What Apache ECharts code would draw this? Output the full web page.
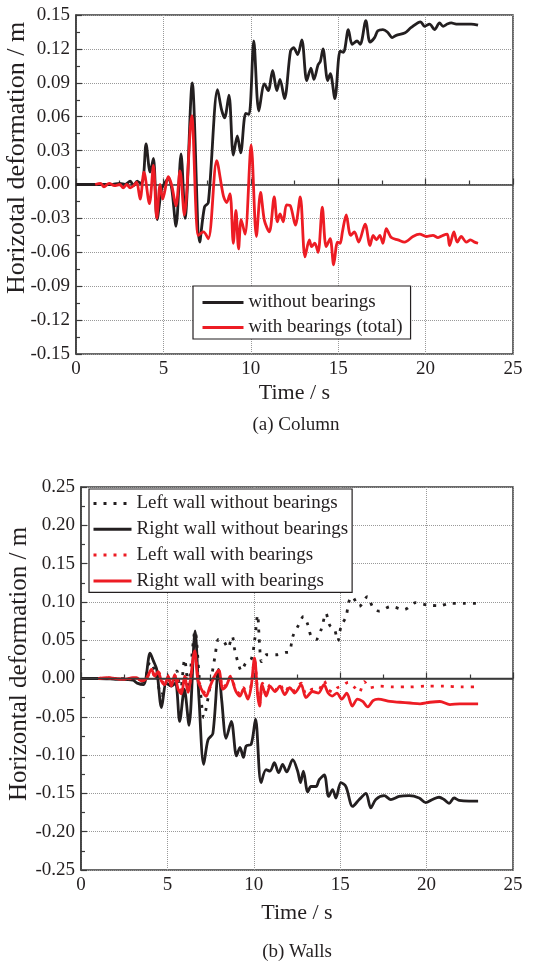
<!DOCTYPE html>
<html>
<head>
<meta charset="utf-8">
<script src="https://cdn.jsdelivr.net/npm/echarts@6/dist/echarts.min.js"></script>
<style>
  html, body { margin: 0; padding: 0; background: #fff; }
  #chart { width: 533px; height: 965px; }
</style>
</head>
<body>
<div id="chart"></div>
<script>
// (a) Column: [time s, horizontal deformation m]
const columnWithout = [
  [0, 0], [1, 0], [2, 0], [2.5, 0.001], [2.8, 0], [3.1, 0.003], [3.3, -0.001], [3.5, 0.003],
  [3.7, 0.001], [3.85, 0.005], [4.01, 0.036], [4.24, 0.011], [4.43, 0.023], [4.64, -0.031],
  [4.9, -0.004], [5.1, 0.002], [5.29, 0.005], [5.48, -0.004], [5.72, -0.037], [6.01, 0.027],
  [6.24, -0.030], [6.65, 0.090], [7.08, -0.051], [7.35, -0.020], [7.57, -0.016], [8.1, 0.084],
  [8.33, 0.066], [8.5, 0.059], [8.75, 0.079], [9.0, 0.026], [9.23, 0.043], [9.42, 0.028],
  [9.71, 0.063], [9.9, 0.062], [10.17, 0.127], [10.46, 0.065], [10.78, 0.089], [11.0, 0.083],
  [11.25, 0.101], [11.49, 0.083], [11.67, 0.093], [11.93, 0.076], [12.27, 0.118], [12.45, 0.121],
  [12.68, 0.115], [12.92, 0.128], [13.2, 0.092], [13.44, 0.103], [13.61, 0.093], [13.85, 0.106],
  [13.98, 0.109], [14.13, 0.120], [14.4, 0.092], [14.55, 0.098], [14.81, 0.076], [15.11, 0.118],
  [15.3, 0.117], [15.58, 0.137], [15.8, 0.124], [16.08, 0.127], [16.26, 0.124], [16.58, 0.145],
  [16.82, 0.126], [17.08, 0.130], [17.27, 0.136], [17.56, 0.137], [17.81, 0.135], [18.09, 0.130],
  [18.32, 0.132], [18.8, 0.134], [19.18, 0.139], [19.71, 0.144], [19.94, 0.140], [20.23, 0.142],
  [20.51, 0.137], [20.8, 0.143], [21.0, 0.140], [21.24, 0.142], [21.47, 0.143], [21.75, 0.142],
  [22.04, 0.142], [22.42, 0.142], [22.61, 0.142], [23.0, 0.141]
];
const columnWith = [
  [1.1, 0], [1.4, 0.001], [1.6, -0.002], [1.9, 0.001], [2.2, -0.001], [2.5, 0], [2.7, -0.003],
  [2.9, 0], [3.1, -0.003], [3.3, -0.001], [3.47, 0.002], [3.67, -0.013], [3.89, 0.011],
  [4.2, -0.017], [4.43, 0.017], [4.62, -0.030], [4.81, 0], [4.96, -0.013], [5.29, 0.007],
  [5.48, -0.001], [5.72, -0.019], [5.95, 0.012], [6.2, -0.027], [6.62, 0.061], [7.0, -0.045],
  [7.29, -0.042], [7.57, -0.048], [8.05, 0.021], [8.43, -0.010], [8.62, -0.016], [8.81, -0.008],
  [9.0, -0.052], [9.15, -0.023], [9.3, -0.057], [9.45, -0.031], [9.67, -0.044], [10.02, 0.035],
  [10.32, -0.046], [10.56, -0.007], [10.78, -0.032], [11.06, -0.042], [11.34, -0.011],
  [11.52, -0.033], [11.67, -0.026], [11.86, -0.033], [12.04, -0.018], [12.27, -0.019],
  [12.55, -0.036], [12.83, -0.011], [13.1, -0.064], [13.35, -0.049], [13.48, -0.055],
  [13.66, -0.052], [13.85, -0.060], [14.09, -0.020], [14.31, -0.055], [14.54, -0.048],
  [14.74, -0.071], [14.96, -0.051], [15.11, -0.052], [15.24, -0.042], [15.46, -0.027],
  [15.71, -0.045], [15.93, -0.042], [16.17, -0.051], [16.54, -0.035], [16.82, -0.054],
  [17.0, -0.045], [17.19, -0.049], [17.38, -0.045], [17.56, -0.052], [17.75, -0.039],
  [18.04, -0.047], [18.42, -0.049], [18.8, -0.051], [19.28, -0.046], [19.66, -0.044],
  [20.04, -0.046], [20.42, -0.045], [20.71, -0.047], [21.0, -0.045], [21.24, -0.044],
  [21.37, -0.054], [21.62, -0.042], [21.81, -0.051], [22.04, -0.046], [22.33, -0.051],
  [22.57, -0.049], [22.8, -0.051], [23.0, -0.052]
];

// (b) Walls
const leftWithout = [
  [0, 0], [1, 0], [2, 0], [3, -0.001], [3.6, -0.004], [4.0, 0.022], [4.3, 0.008], [4.66, -0.022],
  [5.0, 0], [5.3, -0.008], [5.55, 0.010], [5.75, -0.018], [6.0, 0.025], [6.2, -0.008],
  [6.6, 0.062], [6.85, 0], [7.11, -0.051], [7.3, -0.032], [7.77, 0.031], [7.96, 0.051],
  [8.25, 0.049], [8.5, 0.040], [8.75, 0.055], [8.91, 0.036], [9.1, 0.020], [9.28, 0.010],
  [9.53, 0.020], [9.85, 0.025], [10.05, 0.050], [10.22, 0.083], [10.33, 0.046], [10.45, 0.022],
  [10.72, 0.031], [11.3, 0.031], [11.87, 0.034], [12.07, 0.035], [12.26, 0.055], [12.55, 0.068],
  [12.88, 0.081], [13.13, 0.070], [13.32, 0.055], [13.61, 0.051], [13.9, 0.064], [14.18, 0.085],
  [14.38, 0.070], [14.67, 0.064], [14.86, 0.049], [15.05, 0.068], [15.34, 0.081], [15.5, 0.100],
  [15.69, 0.107], [16.1, 0.094], [16.58, 0.107], [16.87, 0.094], [17.25, 0.088], [17.93, 0.094],
  [18.7, 0.090], [19.37, 0.099], [20.04, 0.096], [20.72, 0.095], [21.39, 0.098], [22.16, 0.098],
  [22.95, 0.098]
];
const rightWithout = [
  [0, 0], [1, 0], [2, -0.001], [3, -0.002], [3.25, -0.006], [3.62, -0.008], [4.0, 0.033],
  [4.19, 0.023], [4.38, 0.012], [4.66, -0.038], [4.94, -0.006], [5.23, -0.010], [5.47, -0.006],
  [5.71, -0.056], [5.98, -0.014], [6.25, -0.061], [6.6, 0.062], [6.83, -0.027], [7.1, -0.112],
  [7.35, -0.080], [7.63, -0.072], [7.96, 0.012], [8.15, -0.030], [8.4, -0.078], [8.7, -0.056],
  [9.0, -0.101], [9.2, -0.090], [9.4, -0.103], [9.56, -0.088], [9.85, -0.086], [10.1, -0.053],
  [10.42, -0.136], [10.71, -0.119], [10.94, -0.121], [11.19, -0.110], [11.44, -0.123],
  [11.67, -0.112], [11.9, -0.122], [12.25, -0.106], [12.54, -0.121], [12.7, -0.136],
  [12.87, -0.121], [13.12, -0.148], [13.31, -0.141], [13.6, -0.141], [13.79, -0.132],
  [14.08, -0.126], [14.33, -0.154], [14.56, -0.145], [14.75, -0.156], [15.04, -0.136],
  [15.33, -0.141], [15.72, -0.167], [16.1, -0.158], [16.49, -0.150], [16.77, -0.169],
  [17.06, -0.158], [17.55, -0.153], [17.93, -0.158], [18.41, -0.154], [18.99, -0.153],
  [19.57, -0.156], [19.95, -0.162], [20.34, -0.158], [20.72, -0.155], [21.01, -0.158],
  [21.3, -0.163], [21.59, -0.156], [21.88, -0.159], [22.46, -0.160], [22.98, -0.160]
];
const leftWith = [
  [1.0, 0], [1.5, 0.001], [2.0, 0], [2.5, -0.001], [3.0, 0], [3.5, -0.002], [3.8, 0.001],
  [4.08, 0.010], [4.3, 0.002], [4.5, 0.008], [4.7, -0.004], [4.9, -0.006], [5.1, 0.004],
  [5.3, -0.008], [5.5, 0.006], [5.7, -0.012], [5.85, -0.016], [6.05, 0.004], [6.2, -0.015],
  [6.58, 0.033], [6.8, -0.002], [7.06, -0.016], [7.25, -0.020], [7.5, -0.010], [7.75, 0.004],
  [7.97, 0.010], [8.2, -0.012], [8.4, -0.008], [8.65, 0.003], [8.95, -0.014], [9.2, -0.020],
  [9.4, -0.012], [9.66, -0.024], [9.85, -0.008], [10.04, 0.024], [10.23, -0.020], [10.34, -0.032],
  [10.5, -0.006], [10.72, -0.020], [10.94, -0.008], [11.23, -0.015], [11.51, -0.008],
  [11.79, -0.018], [12.08, -0.010], [12.36, -0.016], [12.74, -0.006], [13.02, -0.020],
  [13.4, -0.014], [13.74, -0.015], [14.06, -0.003], [14.3, -0.014], [14.6, -0.018],
  [14.85, -0.012], [15.09, -0.010], [15.47, -0.005], [15.85, -0.012], [16.1, -0.018],
  [16.4, -0.004], [16.7, -0.012], [17.25, -0.010], [18.0, -0.011], [19.0, -0.011],
  [20.0, -0.010], [21.0, -0.010], [22.0, -0.011], [22.98, -0.011]
];
const rightWith = [
  [1.0, 0], [1.5, 0.001], [2.0, 0], [2.5, -0.001], [3.0, 0.001], [3.21, 0.001], [3.5, -0.003],
  [3.79, 0], [4.08, 0.012], [4.27, 0.003], [4.46, 0.009], [4.65, -0.003], [4.85, -0.008],
  [5.04, 0.003], [5.23, -0.010], [5.42, 0.005], [5.62, -0.014], [5.81, -0.020], [6.0, 0.003],
  [6.19, -0.018], [6.58, 0.036], [6.77, -0.003], [7.06, -0.018], [7.25, -0.023], [7.44, -0.012],
  [7.73, 0.003], [7.97, 0.011], [8.21, -0.014], [8.4, -0.010], [8.65, 0.002], [8.95, -0.016],
  [9.2, -0.023], [9.4, -0.014], [9.66, -0.027], [9.85, -0.010], [10.04, 0.027], [10.23, -0.023],
  [10.34, -0.036], [10.47, -0.008], [10.72, -0.023], [10.94, -0.010], [11.23, -0.017],
  [11.51, -0.010], [11.79, -0.021], [12.08, -0.012], [12.36, -0.019], [12.74, -0.008],
  [13.02, -0.025], [13.4, -0.017], [13.74, -0.019], [14.06, -0.008], [14.3, -0.019],
  [14.53, -0.023], [14.81, -0.019], [15.09, -0.027], [15.38, -0.019], [15.7, -0.036],
  [16.0, -0.027], [16.3, -0.030], [16.6, -0.037], [16.9, -0.029], [17.2, -0.027],
  [17.88, -0.030], [18.46, -0.031], [19.04, -0.032], [19.62, -0.033], [20.19, -0.031],
  [20.77, -0.030], [21.35, -0.034], [21.92, -0.033], [22.5, -0.033], [22.98, -0.033]
];

const xTicks = { min: 0, max: 25, step: 5 };
const yTicksColumn = { min: -0.15, max: 0.15, step: 0.03 };
const yTicksWalls = { min: -0.25, max: 0.25, step: 0.05 };

const FONT = '"Liberation Serif", "Times New Roman", serif';
const INK = '#231f20';
const RED = '#ed1c24';
const AXIS = '#3a3a3a';

function xAxis(gridIndex, nameGap) {
  return {
    gridIndex, type: 'value', min: xTicks.min, max: xTicks.max, interval: xTicks.step,
    name: 'Time / s', nameLocation: 'middle', nameGap,
    nameTextStyle: { fontFamily: FONT, fontSize: 22, color: INK },
    axisLine: { lineStyle: { color: AXIS, width: 1.5 } },
    axisTick: { inside: true, length: 6, lineStyle: { color: AXIS, width: 1.2 } },
    minorTick: { show: true, splitNumber: 2, length: 4, lineStyle: { color: AXIS, width: 1.2 } },
    splitLine: { show: true, lineStyle: { type: 'dotted', color: '#999', width: 1 } },
    axisLabel: { fontFamily: FONT, fontSize: 19, color: INK, margin: 6 }
  };
}

function yAxis(gridIndex, t) {
  return {
    gridIndex, type: 'value', min: t.min, max: t.max, interval: t.step,
    axisLine: { show: true, lineStyle: { color: AXIS, width: 1.5 } },
    axisTick: { show: true, inside: true, length: 6, lineStyle: { color: AXIS, width: 1.2 } },
    minorTick: { show: true, splitNumber: 2, length: 4, lineStyle: { color: AXIS, width: 1.2 } },
    splitLine: { show: true, lineStyle: { type: 'dotted', color: '#999', width: 1 } },
    axisLabel: {
      fontFamily: FONT, fontSize: 19, color: INK, margin: 6,
      formatter: v => (Math.abs(v) < 1e-9 ? 0 : v).toFixed(2)
    }
  };
}

function line(name, data, color, dashed, xi, extra) {
  return Object.assign({
    name, type: 'line', data, xAxisIndex: xi, yAxisIndex: xi,
    symbol: 'none', smooth: 0.3, z: color === RED ? 3 : 2,
    lineStyle: { color, width: 2.8, type: dashed ? [3, 7] : 'solid' },
    itemStyle: { color }
  }, extra || {});
}

const legendText = { fontFamily: FONT, fontSize: 19, color: INK };

const chart = echarts.init(document.getElementById('chart'), null, { renderer: 'canvas' });
chart.setOption({
  animation: false,
  backgroundColor: '#fff',
  grid: [
    { left: 76, top: 15, right: 20, height: 339, show: true, borderColor: AXIS, borderWidth: 1.5 },
    { left: 81, top: 487, right: 20, height: 383, show: true, borderColor: AXIS, borderWidth: 1.5 }
  ],
  xAxis: [xAxis(0, 28), xAxis(1, 32)],
  yAxis: [yAxis(0, yTicksColumn), yAxis(1, yTicksWalls)],
  legend: [
    {
      orient: 'vertical', left: 193, top: 286, itemWidth: 41, itemHeight: 14, itemGap: 6,
      padding: [7, 8, 2, 8], borderColor: INK, borderWidth: 1.2, backgroundColor: '#fff',
      itemStyle: { opacity: 0 }, lineStyle: { width: 3 },
      textStyle: legendText, data: ['without bearings', 'with bearings (total)']
    },
    {
      orient: 'vertical', left: 89, top: 489, itemWidth: 38, itemHeight: 14, itemGap: 6.8,
      padding: [5, 4, 2, 3], borderColor: INK, borderWidth: 1.2, backgroundColor: '#fff',
      itemStyle: { opacity: 0 }, lineStyle: { width: 3 },
      textStyle: legendText,
      data: ['Left wall without bearings', 'Right wall without bearings',
             'Left wall with bearings', 'Right wall with bearings']
    }
  ],
  graphic: [
    { type: 'text', x: 17, y: 158, rotation: Math.PI / 2,
      style: { text: 'Horizotal deformation / m', font: '26px ' + FONT, fill: INK,
               textAlign: 'center', textVerticalAlign: 'middle' } },
    { type: 'text', x: 19, y: 664, rotation: Math.PI / 2,
      style: { text: 'Horizontal deformation / m', font: '25px ' + FONT, fill: INK,
               textAlign: 'center', textVerticalAlign: 'middle' } },
    { type: 'text', x: 296, y: 425,
      style: { text: '(a) Column', font: '19px ' + FONT, fill: INK,
               textAlign: 'center', textVerticalAlign: 'middle' } },
    { type: 'text', x: 297, y: 952,
      style: { text: '(b) Walls', font: '19px ' + FONT, fill: INK,
               textAlign: 'center', textVerticalAlign: 'middle' } }
  ],
  series: [
    line('without bearings', columnWithout, INK, false, 0),
    line('with bearings (total)', columnWith, RED, false, 0),
    line('Left wall without bearings', leftWithout, INK, true, 1),
    line('Right wall without bearings', rightWithout, INK, false, 1, {
      markLine: {
        silent: true, symbol: 'none', label: { show: false },
        lineStyle: { color: AXIS, width: 1.3, type: 'solid' },
        data: [{ yAxis: 0 }]
      }
    }),
    line('Left wall with bearings', leftWith, RED, true, 1),
    line('Right wall with bearings', rightWith, RED, false, 1)
  ]
});
</script>
</body>
</html>
